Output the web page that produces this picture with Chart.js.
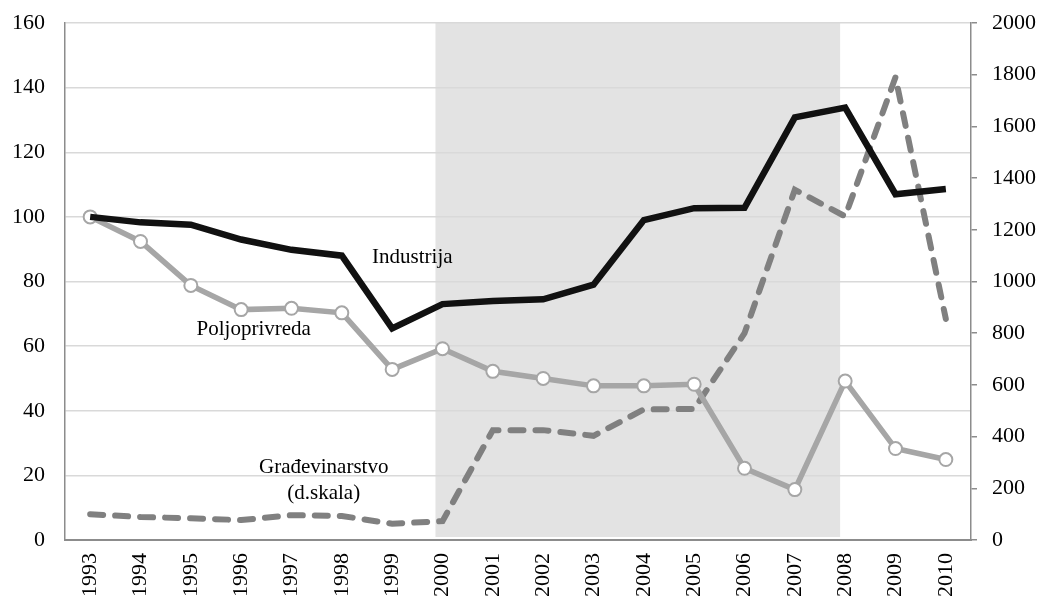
<!DOCTYPE html>
<html>
<head>
<meta charset="utf-8">
<script src="https://cdn.jsdelivr.net/npm/chart.js@4/dist/chart.umd.min.js"></script>
<style>
html,body{margin:0;padding:0;background:#fff;}
#c{display:block;}
</style>
</head>
<body>
<canvas id="c" width="1043" height="600"></canvas>
<script>
const years = ['1993','1994','1995','1996','1997','1998','1999','2000','2001','2002','2003','2004','2005','2006','2007','2008','2009','2010'];
const industrija = [100, 98.3, 97.6, 93, 89.8, 88, 65.5, 73, 74, 74.5, 79, 99, 102.7, 102.8, 130.8, 133.8, 107, 108.6];
const poljoprivreda = [100, 92.4, 78.8, 71.3, 71.7, 70.3, 52.8, 59.2, 52.2, 50, 47.7, 47.7, 48.2, 22.2, 15.6, 49.2, 28.3, 24.9];
const gradjevinarstvo = [100, 89, 84, 77, 96, 93, 63, 73, 425, 425, 403, 505, 507, 800, 1355, 1252, 1790, 855];
const leftTicks = [0, 20, 40, 60, 80, 100, 120, 140, 160];
const rightTicks = [0, 200, 400, 600, 800, 1000, 1200, 1400, 1600, 1800, 2000];
const shadeFrom = '2000';
const shadeTo = '2008';

const FONT = '"Liberation Serif", "Times New Roman", serif';
const AXIS = '#8c8c8c';
const GRID = '#d9d9d9';

const shadePlugin = {
  id: 'shade',
  beforeDraw(chart) {
    const x = chart.scales.x, y = chart.scales.y, ctx = chart.ctx;
    const i0 = years.indexOf(shadeFrom), i1 = years.indexOf(shadeTo);
    const x0 = x.getPixelForValue(i0 - 0.14);
    const x1 = x.getPixelForValue(i1 - 0.1);
    ctx.save();
    ctx.fillStyle = '#e3e3e3';
    ctx.fillRect(x0, y.top, x1 - x0, y.bottom - y.top - 3);
    ctx.restore();
  }
};

const labelPlugin = {
  id: 'labels',
  afterDatasetsDraw(chart) {
    const x = chart.scales.x, y = chart.scales.y, ctx = chart.ctx;
    ctx.save();
    ctx.fillStyle = '#000';
    ctx.font = '21px ' + FONT;
    ctx.textAlign = 'center';
    ctx.textBaseline = 'middle';
    ctx.fillText('Industrija', x.getPixelForValue(6.4), y.getPixelForValue(87.5));
    ctx.fillText('Poljoprivreda', x.getPixelForValue(3.25), y.getPixelForValue(65));
    ctx.fillText('Građevinarstvo', x.getPixelForValue(4.64), y.getPixelForValue(22.5));
    ctx.fillText('(d.skala)', x.getPixelForValue(4.64), y.getPixelForValue(14.5));
    ctx.restore();
  }
};

function noPad(s) { s.paddingTop = 0; s.paddingBottom = 0; }

new Chart(document.getElementById('c'), {
  type: 'line',
  data: {
    labels: years,
    datasets: [
      {
        label: 'Građevinarstvo',
        data: gradjevinarstvo,
        yAxisID: 'y2',
        borderColor: '#808080',
        borderWidth: 6,
        borderDash: [13, 12],
        borderCapStyle: 'round',
        pointRadius: 0,
        tension: 0,
        order: 3
      },
      {
        label: 'Poljoprivreda',
        data: poljoprivreda,
        yAxisID: 'y',
        borderColor: '#a6a6a6',
        borderWidth: 5.5,
        pointRadius: 6.5,
        pointBackgroundColor: '#ffffff',
        pointBorderColor: '#a6a6a6',
        pointBorderWidth: 2,
        tension: 0,
        order: 2
      },
      {
        label: 'Industrija',
        data: industrija,
        yAxisID: 'y',
        borderColor: '#111111',
        borderWidth: 6.5,
        pointRadius: 0,
        tension: 0,
        order: 1
      }
    ]
  },
  options: {
    responsive: false,
    animation: false,
    layout: { padding: { top: 23, left: 0, right: 0, bottom: 0 } },
    plugins: { legend: { display: false }, tooltip: { enabled: false } },
    scales: {
      x: {
        offset: true,
        grid: { display: false, drawTicks: false },
        border: { color: AXIS, width: 2 },
        ticks: {
          color: '#000',
          font: { family: FONT, size: 22 },
          maxRotation: 90, minRotation: 90,
          padding: 13,
          autoSkip: false
        },
        afterFit(s) { s.height = 60; s.paddingLeft = 0; s.paddingRight = 0; }
      },
      y: {
        position: 'left',
        min: 0, max: 160,
        afterBuildTicks(s) { s.ticks = leftTicks.map(v => ({ value: v })); },
        grid: { color: GRID, lineWidth: 1.5, drawTicks: false },
        border: { color: AXIS, width: 1.5 },
        ticks: { color: '#000', font: { family: FONT, size: 22 }, padding: 20, callback: v => String(v) },
        afterFit(s) { s.width = 65; noPad(s); }
      },
      y2: {
        position: 'right',
        min: 0, max: 2000,
        afterBuildTicks(s) { s.ticks = rightTicks.map(v => ({ value: v })); },
        grid: { drawOnChartArea: false, drawTicks: true, tickLength: 6, color: AXIS, lineWidth: 1.5 },
        border: { color: AXIS, width: 1.5 },
        ticks: { color: '#000', font: { family: FONT, size: 22 }, padding: 15, callback: v => String(v) },
        afterFit(s) { s.width = 72; noPad(s); }
      }
    }
  },
  plugins: [shadePlugin, labelPlugin]
});
</script>
</body>
</html>
